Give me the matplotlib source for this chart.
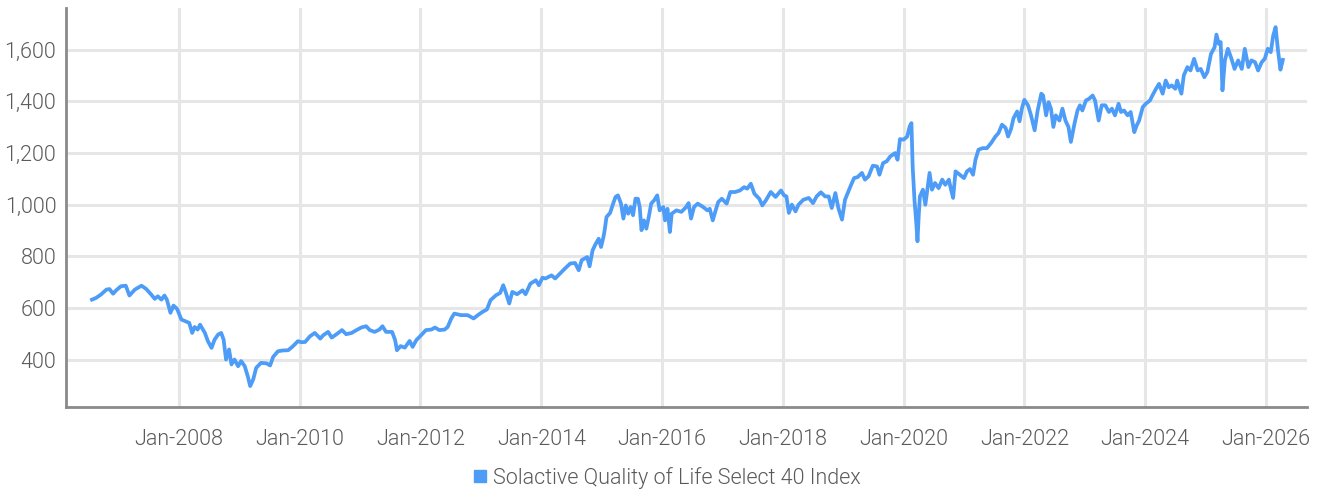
import matplotlib
matplotlib.use("Agg")
import matplotlib.pyplot as plt
from matplotlib.lines import Line2D

# decimal-year dates and index levels
dates = [
    2006.56, 2006.63, 2006.71, 2006.80, 2006.85, 2006.91, 2006.96, 2007.04, 2007.12, 2007.18,
    2007.27, 2007.38, 2007.46, 2007.54, 2007.60, 2007.65, 2007.71, 2007.76, 2007.80, 2007.86,
    2007.91, 2007.97, 2008.04, 2008.11, 2008.17, 2008.22, 2008.26, 2008.31, 2008.35, 2008.43,
    2008.48, 2008.54, 2008.59, 2008.65, 2008.70, 2008.74, 2008.78, 2008.83, 2008.87, 2008.92,
    2008.98, 2009.03, 2009.09, 2009.14, 2009.18, 2009.23, 2009.28, 2009.36, 2009.45, 2009.51,
    2009.56, 2009.64, 2009.72, 2009.81, 2009.89, 2009.97, 2010.03,
    2010.09, 2010.17, 2010.25, 2010.34, 2010.39, 2010.47, 2010.53, 2010.61, 2010.70, 2010.77,
    2010.86, 2010.94, 2011.02, 2011.10, 2011.16, 2011.24, 2011.32, 2011.37, 2011.43, 2011.53,
    2011.58, 2011.61, 2011.67, 2011.74, 2011.82, 2011.87, 2011.93, 2012.01, 2012.09, 2012.18,
    2012.24, 2012.31, 2012.40, 2012.45, 2012.51, 2012.56, 2012.67, 2012.78, 2012.88, 2012.95,
    2013.03, 2013.10, 2013.16, 2013.25, 2013.32, 2013.37, 2013.41, 2013.47, 2013.52, 2013.60,
    2013.69, 2013.74, 2013.82, 2013.91, 2013.96, 2014.02,
    2014.07, 2014.12, 2014.17, 2014.23, 2014.31, 2014.39, 2014.48, 2014.56, 2014.62, 2014.67,
    2014.76, 2014.80, 2014.85, 2014.89, 2014.95, 2014.99, 2015.03, 2015.05, 2015.08, 2015.14,
    2015.19, 2015.23, 2015.27, 2015.32, 2015.36, 2015.40, 2015.44, 2015.48, 2015.52, 2015.56,
    2015.60, 2015.63, 2015.66, 2015.70, 2015.74, 2015.78, 2015.82, 2015.87, 2015.92, 2015.96,
    2016.02, 2016.05, 2016.09, 2016.13, 2016.16, 2016.24, 2016.32, 2016.40, 2016.44, 2016.48,
    2016.53, 2016.59, 2016.68, 2016.75, 2016.79, 2016.84, 2016.88, 2016.93, 2016.99, 2017.07,
    2017.13, 2017.21, 2017.29, 2017.36, 2017.41, 2017.47, 2017.53, 2017.61, 2017.66, 2017.72,
    2017.80, 2017.88, 2017.97, 2018.02,
    2018.06, 2018.10, 2018.15, 2018.21, 2018.26, 2018.34, 2018.43, 2018.50, 2018.56, 2018.63,
    2018.70, 2018.76, 2018.81, 2018.87, 2018.92, 2018.98, 2019.03, 2019.12, 2019.18, 2019.24,
    2019.31, 2019.36, 2019.42, 2019.49, 2019.56, 2019.60, 2019.66, 2019.72, 2019.78, 2019.86,
    2019.90, 2019.94, 2020.00, 2020.06, 2020.10, 2020.13, 2020.15, 2020.18, 2020.21, 2020.23,
    2020.25, 2020.27, 2020.32, 2020.36, 2020.40, 2020.43, 2020.47, 2020.52, 2020.58, 2020.64,
    2020.69, 2020.75, 2020.78, 2020.82, 2020.86, 2020.93, 2021.00, 2021.05, 2021.10, 2021.15,
    2021.19, 2021.24, 2021.31, 2021.38, 2021.45, 2021.52, 2021.57, 2021.63, 2021.69, 2021.73,
    2021.78, 2021.82, 2021.88, 2021.92, 2021.96, 2022.00,
    2022.06, 2022.11, 2022.17, 2022.22, 2022.28, 2022.31, 2022.36, 2022.40, 2022.44, 2022.48,
    2022.52, 2022.58, 2022.63, 2022.68, 2022.73, 2022.77, 2022.83, 2022.88, 2022.92, 2022.96,
    2023.02, 2023.07, 2023.13, 2023.17, 2023.23, 2023.28, 2023.34, 2023.40, 2023.45, 2023.50,
    2023.56, 2023.60, 2023.65, 2023.71, 2023.76, 2023.82, 2023.86, 2023.90, 2023.96, 2024.01,
    2024.08, 2024.12, 2024.18, 2024.23, 2024.29, 2024.34, 2024.39, 2024.44, 2024.50, 2024.53,
    2024.60, 2024.64, 2024.70, 2024.75, 2024.81, 2024.87, 2024.92, 2024.98, 2025.03, 2025.09,
    2025.15, 2025.18, 2025.22, 2025.25, 2025.28, 2025.32, 2025.37, 2025.43, 2025.48, 2025.54,
    2025.60, 2025.65, 2025.71, 2025.76, 2025.82, 2025.87, 2025.93, 2025.98, 2026.03, 2026.08,
    2026.12, 2026.16, 2026.20, 2026.24, 2026.28,
]
values = [
    632, 639, 652, 671, 673, 655, 668, 684, 686, 648,
    671, 686, 673, 652, 635, 645, 632, 648, 632, 581,
    609, 596, 555, 548, 542, 503, 526, 516, 535, 503,
    471, 445, 477, 497, 503, 477, 400, 439, 381, 400,
    374, 394, 374, 335, 297, 323, 368, 387, 385, 377,
    410, 432, 435, 436, 452, 471, 467,
    468, 490, 503, 481, 494, 507, 485, 498, 514, 498,
    503, 514, 524, 529, 514, 507, 516, 529, 507, 507,
    475, 436, 452, 446, 472, 449, 475, 494, 514, 516,
    524, 514, 516, 526, 559, 578, 572, 572, 559, 572,
    585, 594, 630, 649, 658, 688, 662, 617, 662, 653,
    668, 653, 694, 707, 688, 717,
    714, 720, 726, 714, 733, 752, 772, 774, 746, 785,
    797, 761, 823, 843, 868, 836, 875, 901, 952, 968,
    1004, 1030, 1036, 1004, 946, 997, 965, 991, 959, 1023,
    1023, 991, 901, 939, 907, 952, 1004, 1017, 1036, 978,
    991, 939, 984, 894, 965, 978, 972, 991, 1006, 946,
    991, 1004, 991, 978, 984, 939, 972, 1010, 1023, 1004,
    1049, 1049, 1055, 1068, 1062, 1081, 1042, 1023, 997, 1017,
    1049, 1030, 1055, 1036,
    1032, 968, 1000, 974, 1000, 1019, 1026, 1006, 1032, 1048,
    1032, 1032, 987, 1045, 987, 942, 1019, 1071, 1103, 1107,
    1123, 1097, 1110, 1151, 1148, 1116, 1161, 1168, 1187, 1200,
    1174, 1254, 1252, 1264, 1303, 1316, 1148, 1019, 929, 858,
    955, 1032, 1058, 1000, 1071, 1123, 1058, 1084, 1064, 1097,
    1077, 1097, 1064, 1026, 1129, 1116, 1103, 1129, 1138, 1116,
    1174, 1213, 1219, 1219, 1239, 1264, 1277, 1310, 1297, 1264,
    1294, 1335, 1361, 1323, 1374, 1406,
    1385, 1346, 1288, 1365, 1430, 1423, 1346, 1397, 1372, 1301,
    1346, 1326, 1372, 1326, 1301, 1243, 1314, 1365, 1385, 1365,
    1404, 1410, 1423, 1404, 1326, 1385, 1385, 1359, 1372, 1346,
    1391, 1359, 1365, 1346, 1359, 1281, 1307, 1326, 1378, 1391,
    1404, 1423, 1449, 1468, 1430, 1481, 1455, 1462, 1449, 1481,
    1430, 1501, 1533, 1520, 1565, 1520, 1526, 1494, 1514, 1584,
    1610, 1659, 1623, 1630, 1443, 1559, 1604, 1565, 1526, 1559,
    1526, 1604, 1533, 1559, 1552, 1520, 1552, 1565, 1604, 1591,
    1655, 1688, 1597, 1523, 1561,
]

x_tick_years = [2008, 2010, 2012, 2014, 2016, 2018, 2020, 2022, 2024, 2026]
x_tick_labels = ["Jan-%d" % y for y in x_tick_years]
y_ticks = [400, 600, 800, 1000, 1200, 1400, 1600]
y_tick_labels = ["400", "600", "800", "1,000", "1,200", "1,400", "1,600"]
series_name = "Solactive Quality of Life Select 40 Index"

plt.rcParams['font.family'] = ['Roboto', 'DejaVu Sans']
plt.rcParams['font.weight'] = 300
LINE = '#4d9cf7'
TXT = '#5a5a5a'
GRID = '#e6e6e6'

fig = plt.figure(figsize=(13.25, 4.93), dpi=100)
ax = fig.add_axes([66 / 1325, 1 - 407 / 493, (1307 - 66) / 1325, (407 - 8) / 493])

ax.plot(dates, values, color=LINE, lw=2.7, solid_joinstyle='round', zorder=3)

ax.set_xlim(2006.13, 2026.68)
ax.set_ylim(216, 1762)
ax.set_xticks(x_tick_years)
ax.set_xticklabels(x_tick_labels)
ax.set_yticks(y_ticks)
ax.set_yticklabels(y_tick_labels)
ax.grid(True, color=GRID, lw=2.2, zorder=0)
ax.tick_params(length=0, labelsize=15.5, colors=TXT, pad=7)
ax.tick_params(axis='x', pad=16)

for s in ['top', 'right']:
    ax.spines[s].set_visible(False)
for s in ['left', 'bottom']:
    ax.spines[s].set_color('#8a8a8a')
    ax.spines[s].set_linewidth(2)

handle = Line2D([], [], marker='s', color=LINE, linestyle='None', markersize=9)
fig.legend([handle], [series_name], loc='center', bbox_to_anchor=(665 / 1325, 1 - 478 / 493),
           frameon=False, fontsize=15.5, labelcolor=TXT, handletextpad=0.1, handlelength=1.0)

fig.savefig("out.png", dpi=100)
